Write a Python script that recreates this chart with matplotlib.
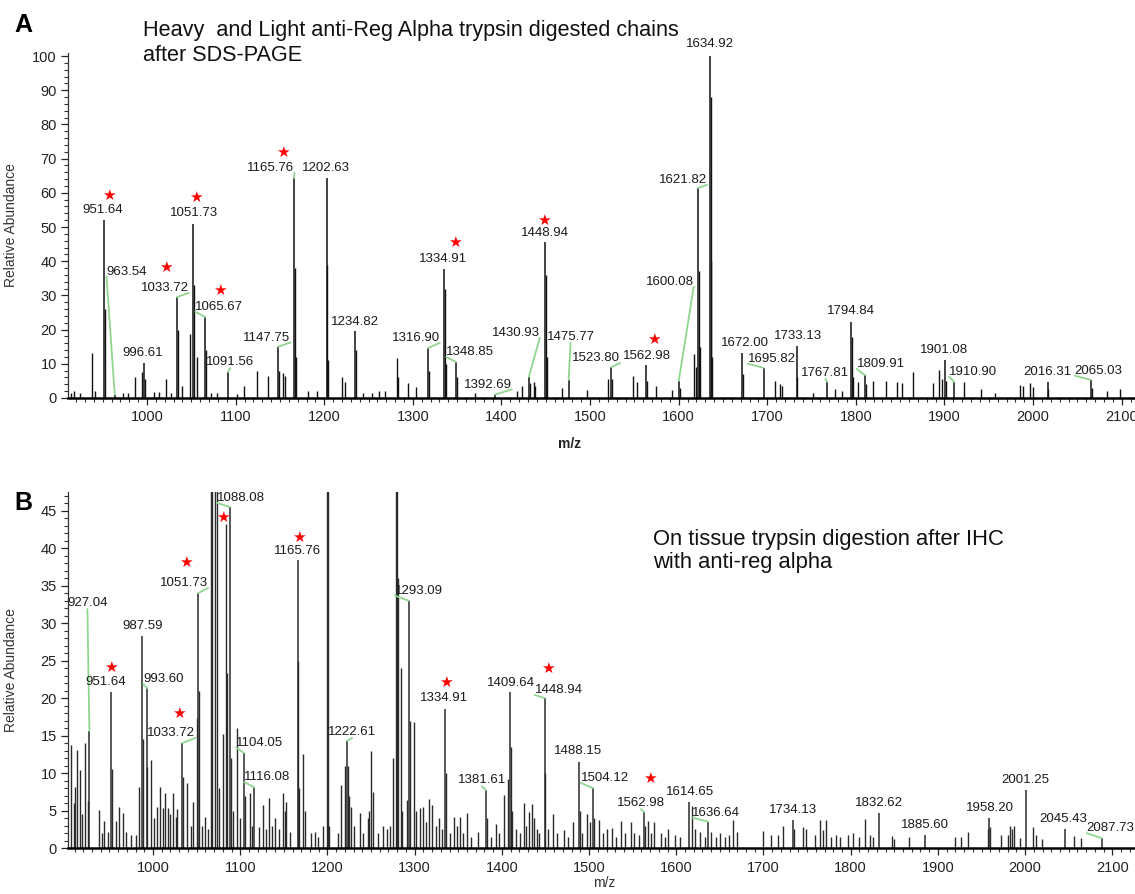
import matplotlib
matplotlib.use("Agg")
import matplotlib.pyplot as plt
from matplotlib.ticker import MultipleLocator

plt.rcParams['font.family'] = ['Liberation Sans', 'DejaVu Sans']

# ---------- panel A : labelled peaks ----------
ann_a_mz = [951.64, 963.54, 996.61, 1033.72, 1051.73, 1065.67, 1091.56, 1147.75, 1165.76,
            1202.63, 1234.82, 1316.90, 1334.91, 1348.85, 1392.69, 1430.93, 1448.94, 1475.77,
            1523.80, 1562.98, 1600.08, 1621.82, 1634.92, 1672.00, 1695.82, 1733.13, 1767.81,
            1794.84, 1809.91, 1901.08, 1910.90, 2016.31, 2065.03]
ann_a_h = [52.0, 1.0, 10.2, 29.5, 50.9, 23.7, 7.6, 15.0, 64.3,
           64.3, 19.6, 14.6, 37.7, 10.5, 1.0, 6.2, 45.6, 5.3,
           9.0, 9.6, 5.0, 61.4, 100.0, 13.1, 8.8, 15.2, 4.7,
           22.3, 6.7, 11.1, 4.7, 4.7, 5.3]
star_a = [951.64, 1033.72, 1051.73, 1065.67, 1165.76, 1334.91, 1448.94, 1562.98]

# panel A : other peaks
peaks_a_mz = [914, 918, 924, 937.9, 941.3, 952.6, 973, 978, 986.5, 994.4, 997.6, 1008, 1014,
              1021.4, 1027, 1034.7, 1039.5, 1048.5, 1052.7, 1056.4, 1066.7, 1072, 1079, 1101,
              1109.5, 1124, 1136.6, 1148.75, 1153.5, 1155.8, 1166.76, 1167.76, 1181.7, 1192,
              1203.63, 1204.6, 1220, 1223.5, 1235.8, 1244, 1254, 1262, 1268.6, 1282, 1283,
              1294.6, 1303.6, 1317.9, 1335.9, 1336.9, 1349.85, 1370, 1417.6, 1423.2, 1431.9,
              1436.8, 1437.8, 1449.94, 1450.9, 1468.4, 1496.6, 1520.3, 1524.8, 1548.5, 1553,
              1563.98, 1574.5, 1592.6, 1601, 1617, 1619, 1622.82, 1623.8, 1635.92, 1636.9,
              1637.9, 1673, 1708.8, 1714.4, 1716.7, 1734.1, 1751.7, 1776.5, 1784.4, 1795.84,
              1796.8, 1802.5, 1810.9, 1819.4, 1834, 1846.5, 1852, 1864.6, 1887, 1894, 1897.3,
              1902.1, 1922, 1941.3, 1957, 1985.3, 1988.7, 1996.6, 2000, 2017.3, 2066, 2083.5,
              2098]
peaks_a_h = [1.5, 2.0, 1.5, 13.1, 2.0, 26.0, 1.5, 1.5, 6.2, 7.5, 5.5, 1.8, 1.8,
             5.5, 1.5, 20.0, 3.5, 18.7, 33.0, 12.0, 14.0, 1.5, 1.5, 1.2,
             3.4, 7.8, 6.3, 8.0, 7.2, 6.5, 38.0, 12.0, 2.0, 2.0,
             39.0, 11.0, 6.1, 4.6, 14.0, 1.5, 1.5, 2.0, 2.1, 11.7, 6.0,
             4.4, 3.2, 8.0, 32.0, 10.0, 6.0, 1.5, 2.1, 3.4, 4.5,
             4.7, 3.5, 36.0, 12.0, 2.9, 2.3, 5.6, 5.5, 6.3, 4.7,
             5.0, 3.4, 2.2, 3.0, 13.0, 9.0, 37.0, 15.0, 88.0, 40.0,
             12.0, 7.0, 5.0, 4.1, 3.5, 6.0, 1.5, 2.5, 2.0, 17.7,
             6.0, 4.6, 4.0, 4.9, 4.9, 4.7, 4.4, 7.6, 4.4, 8.3, 5.5,
             5.0, 4.7, 2.6, 1.6, 3.9, 3.5, 4.3, 3.2, 2.5, 3.0, 2.0,
             2.5]

# ---------- panel B : labelled peaks ----------
ann_b_mz = [927.04, 951.64, 987.59, 993.60, 1033.72, 1051.73, 1088.08, 1104.05, 1116.08,
            1165.76, 1222.61, 1293.09, 1334.91, 1381.61, 1409.64, 1448.94, 1488.15, 1504.12,
            1562.98, 1614.65, 1636.64, 1734.13, 1832.62, 1885.60, 1958.20, 2001.25, 2045.43,
            2087.73]
ann_b_h = [15.6, 20.8, 28.3, 21.3, 14.0, 34.0, 45.5, 12.7, 8.1,
           38.4, 14.3, 33.0, 18.5, 7.7, 20.8, 20.0, 11.5, 8.0,
           4.8, 6.1, 3.5, 3.8, 4.7, 1.7, 4.0, 7.7, 2.5,
           1.3]
star_b = [951.64, 1033.72, 1051.73, 1165.76, 1334.91, 1448.94, 1562.98]
star_b_extra_mz = [1084.0]
star_b_extra_h = [43.2]

# panel B : other peaks
peaks_b_mz = [906, 909, 911, 913, 916, 919, 922, 925, 938, 941, 944, 948, 952.6, 957, 961,
              965, 969, 975, 980, 984, 988.6, 993, 997.7, 1001, 1004, 1008, 1011, 1014, 1017,
              1020, 1023, 1026, 1028, 1034.7, 1039, 1043, 1046, 1050, 1052.7, 1056, 1060,
              1063, 1066.5, 1068, 1071, 1073, 1076, 1080, 1084, 1085, 1089.08, 1092, 1096,
              1100, 1106, 1111, 1114, 1122, 1126, 1130, 1133, 1136, 1140, 1144, 1149, 1151,
              1153, 1157, 1166.76, 1167.8, 1172, 1174, 1181, 1186, 1189, 1195, 1199.5, 1200.5,
              1202, 1212, 1216, 1220, 1223.6, 1225, 1227, 1230, 1237, 1241, 1246, 1248, 1250,
              1252, 1258, 1264, 1268, 1272, 1275, 1278.7, 1279.7, 1280.5, 1284, 1286, 1291,
              1294.1, 1299, 1302, 1306, 1310, 1313, 1316, 1320, 1324, 1328, 1331, 1335.9,
              1340, 1345, 1348, 1352, 1356, 1360, 1365, 1373, 1382.6, 1388, 1393, 1397, 1403,
              1407, 1410.6, 1412, 1416, 1421, 1425, 1428, 1431, 1435, 1437, 1440, 1443,
              1449.9, 1453, 1459, 1463, 1471, 1476, 1482, 1489.2, 1492, 1498, 1501, 1505.1,
              1511, 1516, 1520, 1526, 1531, 1537, 1541, 1548, 1552, 1557, 1564, 1567, 1571,
              1575, 1582, 1587, 1591, 1598, 1604, 1618, 1622, 1627, 1633, 1640, 1645, 1650,
              1656, 1661, 1665, 1670, 1699.5, 1709, 1717, 1722, 1735, 1745, 1749, 1759, 1765,
              1768, 1772, 1777, 1783, 1788, 1797, 1803, 1810, 1816, 1822, 1826, 1847, 1850,
              1867, 1920, 1927, 1934, 1957, 1960, 1972, 1980, 1983, 1985, 1987, 1994, 2009,
              2013, 2019, 2056, 2064]
peaks_b_h = [13.7, 6.0, 8.2, 13.1, 10.4, 4.5, 14.0, 6.3, 5.1, 2.0, 3.6, 2.2, 10.5, 3.6, 5.5,
             4.7, 2.2, 1.8, 1.7, 8.2, 14.5, 10.8, 11.7, 4.0, 5.5, 8.1, 5.3, 7.3, 5.3,
             4.5, 7.3, 4.1, 5.2, 9.5, 8.7, 3.0, 6.2, 17.3, 21.0, 3.0, 4.1,
             2.5, 100.0, 70.0, 80.0, 60.0, 8.0, 15.2, 43.2, 23.4, 12.0, 5.0, 16.0,
             4.0, 7.0, 7.3, 3.0, 2.8, 5.7, 2.5, 6.7, 3.0, 4.0, 2.5, 7.3, 5.0,
             6.1, 2.2, 25.0, 8.0, 12.6, 5.0, 2.0, 2.1, 1.5, 3.0, 90.0, 60.0,
             3.0, 2.0, 8.4, 10.9, 11.0, 7.0, 5.5, 3.0, 4.7, 2.0, 4.0, 5.0, 13.0,
             7.5, 2.0, 3.0, 2.5, 3.0, 12.0, 120.0, 70.0, 36.0, 24.0, 5.0, 6.4,
             17.0, 16.8, 5.0, 5.3, 5.5, 3.5, 6.5, 5.7, 3.0, 4.0, 2.5, 10.0,
             2.0, 4.2, 3.0, 4.2, 2.0, 4.7, 1.5, 2.2, 4.0, 1.5, 3.2, 2.0, 7.1,
             9.2, 13.5, 5.0, 2.5, 2.0, 6.0, 3.0, 4.8, 5.9, 4.0, 2.5, 2.0,
             10.0, 2.5, 4.6, 2.0, 2.4, 1.5, 3.5, 5.0, 2.0, 4.6, 3.5, 4.0,
             3.8, 2.0, 2.5, 2.7, 1.5, 3.6, 2.0, 3.5, 2.0, 1.8, 3.0, 3.6, 2.0,
             3.5, 2.0, 1.5, 2.6, 1.8, 1.5, 5.6, 2.5, 2.2, 1.5, 2.2, 1.5, 2.0,
             1.5, 1.8, 3.8, 2.2, 2.3, 1.8, 1.8, 3.0, 2.5, 2.8, 2.5, 1.8, 3.8,
             2.4, 3.8, 1.5, 1.8, 1.5, 1.7, 2.0, 1.5, 3.9, 1.8, 1.5, 1.6, 1.2,
             1.5, 1.5, 1.5, 2.1, 2.5, 2.8, 1.7, 1.7, 2.9, 2.5, 2.9, 1.4, 2.8,
             1.8, 1.2, 1.6, 1.4]

# label placement (pixels from peak top), leader-line flags and star offsets (from label)
lab_a_off = [(-1, 10), (12, 123), (-1, 10), (-12, 9), (1, 11), (14, 10), (2, 10), (-11, 9), (-23, 10),
             (-1, 10), (0, 9), (-12, 10), (-1, 10), (14, 10), (-7, 10), (-13, 44), (0, 9), (2, 43),
             (-15, 9), (1, 9), (-9, 99), (-15, 8), (0, 12), (2, 10), (8, 9), (1, 10), (-2, 9),
             (0, 11), (16, 11), (-1, 10), (19, 10), (0, 10), (8, 9)]
lead_a = [0, 1, 0, 1, 0, 1, 1, 1, 1, 0, 0, 1, 0, 1, 1, 1, 0, 1, 1, 0, 1, 1, 0, 0, 1, 0, 1, 0, 1, 0, 1, 0, 1]
star_a_off = [(6, 15), (1, 21), (2, 15), (1, 17), (12, 16), (12, 17), (-1, 13), (7, 17)]

lab_b_off = [(-2, 128), (-5, 10), (0, 10), (16, 9), (-11, 10), (-14, 10), (11, 9), (16, 10), (13, 10),
             (0, 9), (5, 9), (10, 10), (-1, 11), (-4, 10), (1, 9), (14, 8), (-1, 11), (12, 10),
             (-3, 9), (1, 10), (8, 9), (0, 10), (0, 10), (0, 10), (1, 10), (-1, 10), (-1, 10),
             (9, 10)]
lead_b = [1, 0, 0, 1, 1, 1, 1, 1, 1, 0, 1, 1, 0, 1, 0, 1, 0, 1, 1, 0, 1, 0, 0, 0, 0, 0, 0, 1]
star_b_off = [(5, 15), (7, 20), (2, 21), (1, 14), (2, 16), (-11, 22), (9, 25)]

green = '#8fd68f'
lab_size = 9.5


def draw_panel(ax, pk_mz, pk_h, an_mz, an_h, offs, leads, stars, star_offs, col):
    ax.vlines(pk_mz, 0, pk_h, color=col, lw=1.0)
    ax.vlines(an_mz, 0, an_h, color=col, lw=1.1)
    for mz, h, (dx, dy), lead in zip(an_mz, an_h, offs, leads):
        ap = None
        if lead:
            if abs(dx) < 6:
                rel = (0.5, 0.0)
            elif dx > 0:
                rel = (0.0, 0.1)
            else:
                rel = (1.0, 0.1)
            ap = dict(arrowstyle='-', color=green, lw=1.3, shrinkA=0, shrinkB=0,
                      relpos=rel, patchA=None)
        ax.annotate(f"{mz:.2f}", xy=(mz, h), xytext=(dx, dy), textcoords='offset pixels',
                    ha='center', va='center', fontsize=lab_size, color='#1a1a1a',
                    arrowprops=ap, annotation_clip=False)
    for mz, (sx, sy) in zip(stars, star_offs):
        i = an_mz.index(mz)
        dx, dy = offs[i]
        ax.annotate('★', xy=(mz, an_h[i]), xytext=(dx + sx, dy + sy), textcoords='offset pixels',
                    ha='center', va='center', fontsize=11, color='red', family='DejaVu Sans',
                    annotation_clip=False)


def style_axis(ax, xlim, ylim, ymaj, ymin):
    ax.set_xlim(*xlim)
    ax.set_ylim(*ylim)
    for s in ['top', 'right']:
        ax.spines[s].set_visible(False)
    ax.spines['bottom'].set_linewidth(1.8)
    ax.spines['left'].set_linewidth(0.9)
    ax.spines['left'].set_color('#333333')
    ax.xaxis.set_major_locator(MultipleLocator(100))
    ax.xaxis.set_minor_locator(MultipleLocator(10))
    ax.yaxis.set_major_locator(MultipleLocator(ymaj))
    ax.yaxis.set_minor_locator(MultipleLocator(ymin))
    ax.tick_params(which='major', direction='out', length=5, width=0.9, labelsize=10.5,
                   colors='#222222', pad=3)
    ax.tick_params(which='minor', direction='out', length=3, width=0.8, colors='#333333')
    ax.tick_params(axis='x', which='major', pad=4)


fig = plt.figure(figsize=(11.35, 8.94), dpi=100)

# panel A
axA = fig.add_axes([68 / 1135, (894 - 398) / 894, 1067 / 1135, 345.4 / 894])
draw_panel(axA, peaks_a_mz, peaks_a_h, ann_a_mz, ann_a_h, lab_a_off, lead_a,
           star_a, star_a_off, '#111111')
style_axis(axA, (910.8, 2115), (0, 101), 10, 2)
axA.set_xlabel('m/z', fontsize=10, fontweight='bold', color='#222222')
axA.xaxis.set_label_coords(0.470, -0.113)
axA.set_ylabel('Relative Abundance', fontsize=10, color='#333333')
axA.yaxis.set_label_coords(-0.047, 0.5)
fig.text(143 / 1135, 1 - 43 / 894,
         'Heavy  and Light anti-Reg Alpha trypsin digested chains\nafter SDS-PAGE',
         fontsize=15.6, va='center', ha='left', linespacing=1.2, color='#111111')
fig.text(23 / 1135, 1 - 25 / 894, 'A', fontsize=18, fontweight='bold',
         ha='center', va='center')

# panel B
axB = fig.add_axes([68 / 1135, (894 - 848) / 894, 1067 / 1135, 356 / 894])
draw_panel(axB, peaks_b_mz, peaks_b_h, ann_b_mz, ann_b_h, lab_b_off, lead_b,
           star_b, star_b_off, '#2a2a2a')
for mz, h in zip(star_b_extra_mz, star_b_extra_h):
    axB.annotate('★', xy=(mz, h), xytext=(-3, 7), textcoords='offset pixels', ha='center',
                 va='center', fontsize=11, color='red', family='DejaVu Sans')
style_axis(axB, (902.5, 2126), (0, 47.5), 5, 1)
axB.set_xlabel('m/z', fontsize=10, color='#333333')
axB.xaxis.set_label_coords(0.503, -0.079)
axB.set_ylabel('Relative Abundance', fontsize=10, color='#333333')
axB.yaxis.set_label_coords(-0.047, 0.5)
fig.text(653 / 1135, 1 - 551 / 894,
         'On tissue trypsin digestion after IHC\nwith anti-reg alpha',
         fontsize=15.8, va='center', ha='left', linespacing=1.18, color='#111111')
fig.text(23 / 1135, 1 - 503 / 894, 'B', fontsize=18, fontweight='bold',
         ha='center', va='center')

fig.savefig('out.png', dpi=100)
